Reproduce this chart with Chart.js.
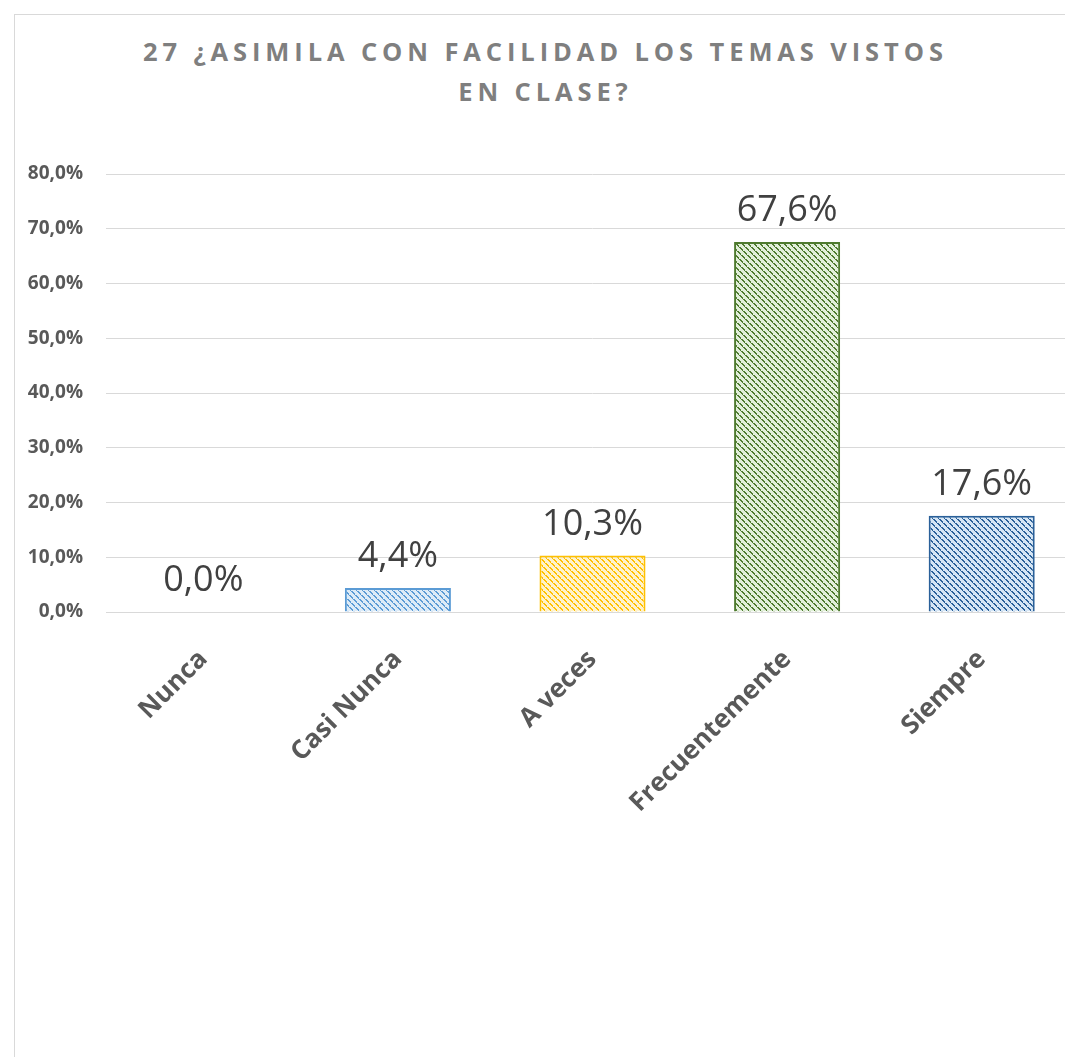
<!DOCTYPE html>
<html>
<head>
<meta charset="utf-8">
<script src="https://cdn.jsdelivr.net/npm/chart.js@4.4.1/dist/chart.umd.min.js"></script>
<style>
    html, body { margin: 0; padding: 0; background: #fff; overflow: hidden; width: 1065px; height: 1057px; }
    #frame { position: absolute; left: 14px; top: 14px; width: 1100px; height: 1100px; border: 1px solid #d9d9d9; }
    #title {
        position: absolute; left: 14px; top: 31px; width: 1058px; text-align: center;
        font-family: "Open Sans", sans-serif; font-weight: bold; font-size: 25.5px; line-height: 40px;
        letter-spacing: 4.9px; color: #7f7f7f; padding-left: 4.9px; box-sizing: border-box;
    }
    #myChart { position: absolute; left: 15px; top: 15px; }
</style>
</head>
<body>
<div id="frame"></div>
<div id="title">27 ¿ASIMILA CON FACILIDAD LOS TEMAS VISTOS<br>EN CLASE?</div>
<canvas id="myChart" width="1064" height="1042"></canvas>
<script>
const categories = ['Nunca', 'Casi Nunca', 'A veces', 'Frecuentemente', 'Siempre'];
const percentages = [0.0, 4.4, 10.3, 67.6, 17.6];
const yTicks = [0, 10, 20, 30, 40, 50, 60, 70, 80];

// fill / dot / border colour for each bar
const fillColors = ['#DDEBF7', '#DDEBF7', '#FFF2CC', '#E2EFDA', '#D6E6F5'];
const dotColors = ['#4472C4', '#5B9BD5', '#FFC000', '#4E7A2E', '#2A6099'];
const borderColors = ['#4472C4', '#5B9BD5', '#FFC000', '#4E7A2E', '#2A6099'];

function fmt(v) {
    return v.toFixed(1).replace('.', ',') + '%';
}

// diagonal dotted pattern like the excel fill
function makePattern(bg, fg) {
    const c = document.createElement('canvas');
    c.width = 12;
    c.height = 12;
    const p = c.getContext('2d');
    p.fillStyle = bg;
    p.fillRect(0, 0, 12, 12);
    p.fillStyle = fg;
    for (let y = 0; y < 12; y++) {
        for (let x = 0; x < 12; x++) {
            const d = ((x - y) % 6 + 6) % 6;
            if (d === 0 || (d === 1 && y % 4 !== 3)) p.fillRect(x, y, 1, 1);
        }
    }
    return p.createPattern(c, 'repeat');
}

function renderGraph() {
    const ctx = document.getElementById('myChart').getContext('2d');
    const patterns = fillColors.map((bg, i) => makePattern(bg, dotColors[i]));

    // value labels above bars
    const valueLabels = {
        id: 'valueLabels',
        afterDatasetsDraw(chart) {
            const c = chart.ctx;
            const meta = chart.getDatasetMeta(0);
            c.save();
            c.font = '36px "Open Sans"';
            c.fillStyle = '#404040';
            c.textAlign = 'center';
            c.textBaseline = 'alphabetic';
            meta.data.forEach((bar, i) => {
                c.fillText(fmt(percentages[i]), bar.x, bar.y - 21);
            });
            c.restore();
        }
    };

    new Chart(ctx, {
        type: 'bar',
        data: {
            labels: categories,
            datasets: [{
                data: percentages,
                backgroundColor: patterns,
                borderColor: borderColors,
                borderWidth: 2,
                barPercentage: 1,
                categoryPercentage: 0.545
            }]
        },
        options: {
            responsive: false,
            animation: false,
            layout: { padding: { top: 159, left: 0, right: 0, bottom: 0 } },
            plugins: {
                legend: { display: false },
                title: { display: false },
                tooltip: { enabled: false }
            },
            scales: {
                y: {
                    min: 0,
                    max: 80,
                    afterFit: scale => { scale.width = 91; },
                    afterBuildTicks: scale => { scale.ticks = yTicks.map(v => ({ value: v })); },
                    grid: { color: '#d9d9d9', lineWidth: 1, drawTicks: false },
                    border: { display: false },
                    ticks: {
                        padding: 23,
                        color: '#595959',
                        font: { family: 'Open Sans', size: 19, weight: 'bold' },
                        callback: v => fmt(v)
                    }
                },
                x: {
                    afterFit: scale => { scale.height = 445; },
                    grid: { display: false, drawTicks: false },
                    border: { display: false },
                    ticks: {
                        autoSkip: false,
                        maxRotation: 45,
                        minRotation: 45,
                        padding: 32,
                        color: '#595959',
                        font: { family: 'Open Sans', size: 26, weight: 'bold' }
                    }
                }
            }
        },
        plugins: [valueLabels]
    });
}

renderGraph();
</script>
</body>
</html>
